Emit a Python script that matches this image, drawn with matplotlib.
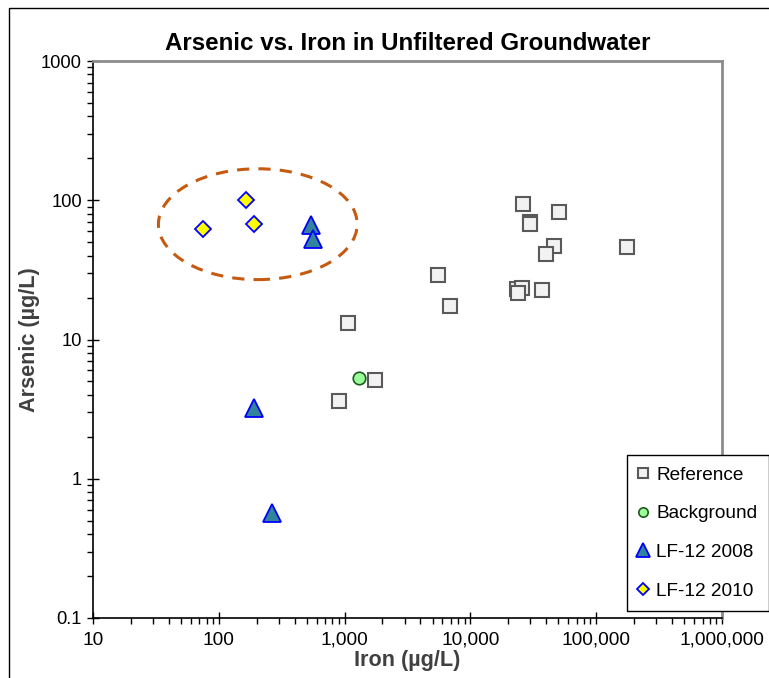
"""
Arsenic vs. iron scatter on log-log axes.
"""

import matplotlib
matplotlib.use("Agg")
import matplotlib.pyplot as plt
from matplotlib.patches import Ellipse, Rectangle
from matplotlib.ticker import FuncFormatter, LogLocator

plt.rcParams["font.family"] = ["Liberation Sans", "DejaVu Sans"]

# data (ug/L)
ref_iron = [1060, 1750, 900, 5500, 6900, 26000, 29500, 30000, 51000,
            46000, 40000, 175000, 23500, 25500, 24000, 37000]
ref_arsenic = [13.2, 5.1, 3.6, 29, 17.3, 94, 70, 67, 82,
               47, 41, 46, 23.2, 23.6, 21.4, 22.5]

bg_iron = [1300]
bg_arsenic = [5.3]

lf08_iron = [190, 265, 540, 560]
lf08_arsenic = [3.2, 0.57, 66, 53]

lf10_iron = [75, 165, 190]
lf10_arsenic = [62, 100, 68]

W, H = 769, 678
fig = plt.figure(figsize=(W / 100, H / 100), dpi=100)
ax = fig.add_axes([93 / W, 1 - 618 / H, (722 - 93) / W, (618 - 61) / H])

ax.plot(ref_iron, ref_arsenic, linestyle="none", marker="s", markersize=9.5,
        markerfacecolor="#F2F2F2", markeredgecolor="#595959", markeredgewidth=1.5,
        label="Reference")
ax.plot(bg_iron, bg_arsenic, linestyle="none", marker="o", markersize=9,
        markerfacecolor="#99FF99", markeredgecolor="#1E5A1E", markeredgewidth=1.2,
        label="Background")
ax.plot(lf08_iron, lf08_arsenic, linestyle="none", marker="^", markersize=13,
        markerfacecolor="#31849B", markeredgecolor="#0000FF", markeredgewidth=1.3,
        label="LF-12 2008")
ax.plot(lf10_iron, lf10_arsenic, linestyle="none", marker="D", markersize=8,
        markerfacecolor="#FFFF00", markeredgecolor="#0000FF", markeredgewidth=1.3,
        label="LF-12 2010")

# dashed ellipse around the LF-12 cluster
ax.add_patch(Ellipse((0.262, 0.707), 0.316, 0.199, transform=ax.transAxes,
                     fill=False, edgecolor="#C55A11", linewidth=2.2,
                     linestyle=(0, (4, 3))))

ax.set_xscale("log")
ax.set_yscale("log")
ax.set_xlim(10, 1e6)
ax.set_ylim(0.1, 1000)

ax.xaxis.set_major_formatter(FuncFormatter(lambda v, p: f"{v:,.0f}"))
ax.yaxis.set_major_formatter(FuncFormatter(lambda v, p: f"{v:g}"))
ax.xaxis.set_minor_locator(LogLocator(base=10, subs=range(2, 10), numticks=20))
ax.yaxis.set_minor_locator(LogLocator(base=10, subs=range(2, 10), numticks=20))
ax.xaxis.set_minor_formatter(FuncFormatter(lambda v, p: ""))
ax.yaxis.set_minor_formatter(FuncFormatter(lambda v, p: ""))

ax.tick_params(which="major", direction="inout", length=8, width=1,
               labelsize=13.8, colors="black")
ax.tick_params(axis="y", which="major", pad=4, labelsize=13.2)
ax.tick_params(axis="x", which="major", pad=6)
ax.tick_params(which="minor", direction="out", length=4, width=1)

for side in ("left", "bottom"):
    ax.spines[side].set_color("black")
    ax.spines[side].set_linewidth(1.2)
for side in ("top", "right"):
    ax.spines[side].set_color("#8C8C8C")
    ax.spines[side].set_linewidth(2)

ax.set_title("Arsenic vs. Iron in Unfiltered Groundwater", fontsize=17.4,
             fontweight="bold", pad=8)
ax.set_xlabel("Iron (µg/L)", fontsize=15.6, fontweight="bold", color="#404040",
              labelpad=1)
ax.set_ylabel("Arsenic (µg/L)", fontsize=15.6, fontweight="bold", color="#404040",
              labelpad=1)

leg = ax.legend(loc="upper left", bbox_to_anchor=(627 / W, 1 - 455 / H),
                bbox_transform=fig.transFigure, borderaxespad=0,
                fontsize=13.7, markerscale=0.75, handlelength=0.5,
                handletextpad=0.45, labelspacing=1.12, borderpad=0.6,
                fancybox=False, framealpha=1, edgecolor="black")
leg.get_frame().set_linewidth(1)

# outer chart border
fig.add_artist(Rectangle((9 / W, -0.1), 2, 1 - 8 / H + 0.1,
                         transform=fig.transFigure, fill=False,
                         edgecolor="black", linewidth=1))

fig.savefig("out.png", dpi=100)
